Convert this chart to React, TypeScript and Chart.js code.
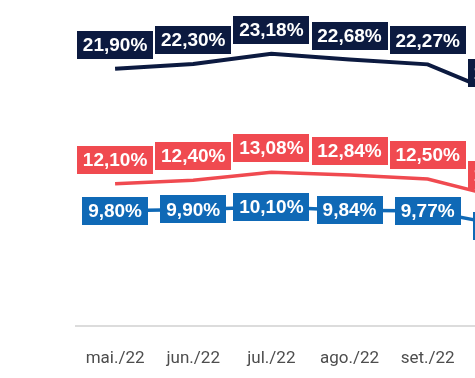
import { useEffect, useRef } from "react";
import { Chart, registerables } from "chart.js";

Chart.register(...registerables);

const categories = ["mai./22", "jun./22", "jul./22", "ago./22", "set./22", "out./22"];
const navyValues = [21.9, 22.3, 23.18, 22.68, 22.27, 19.5];
const redValues = [12.1, 12.4, 13.08, 12.84, 12.5, 10.8];
const blueValues = [9.8, 9.9, 10.1, 9.84, 9.77, 8.5];
const yMin = 0;
const yMax = 27.5;

const NAVY = "#0c1a40";
const RED = "#f04a50";
const BLUE = "#0f69b6";

const fmt = (v: number) => v.toFixed(2).replace(".", ",") + "%";

const boxLabels = {
  id: "boxLabels",
  afterDatasetsDraw(chart: any) {
    const ctx = chart.ctx;
    ctx.save();
    ctx.font = "bold 19px 'Liberation Sans', Arial, sans-serif";
    ctx.textAlign = "center";
    ctx.textBaseline = "middle";
    chart.data.datasets.forEach((ds: any, i: number) => {
      const meta = chart.getDatasetMeta(i);
      meta.data.forEach((pt: any, j: number) => {
        const text = fmt(ds.data[j]);
        const w = Math.round(ctx.measureText(text).width + 12);
        const h = 28;
        const cy = ds.labelMode === "above" ? pt.y - 10 - h / 2 : pt.y;
        ctx.fillStyle = ds.borderColor;
        ctx.fillRect(Math.round(pt.x - w / 2), Math.round(cy - h / 2), w, h);
        ctx.fillStyle = "#ffffff";
        ctx.fillText(text, pt.x, cy + 1);
      });
    });
    ctx.restore();
  },
};

const CANVAS_W = 557;
const CANVAS_H = 392;

export default function App() {
  const ref = useRef<HTMLCanvasElement>(null);
  useEffect(() => {
    if (!ref.current) return;
    const chart = new Chart(ref.current, {
      type: "line",
      data: {
        labels: categories,
        datasets: [
          {
            data: navyValues,
            borderColor: NAVY,
            backgroundColor: NAVY,
            borderWidth: 4,
            pointRadius: 0,
            tension: 0,
            labelMode: "above",
          } as any,
          {
            data: redValues,
            borderColor: RED,
            backgroundColor: RED,
            borderWidth: 3.5,
            pointRadius: 0,
            tension: 0,
            labelMode: "above",
          } as any,
          {
            data: blueValues,
            borderColor: BLUE,
            backgroundColor: BLUE,
            borderWidth: 3.5,
            pointRadius: 0,
            tension: 0,
            labelMode: "center",
          } as any,
        ],
      },
      options: {
        animation: false,
        responsive: false,
        devicePixelRatio: 1,
        layout: { padding: { left: 76, right: 7, top: 3, bottom: 0 } },
        plugins: { legend: { display: false }, tooltip: { enabled: false } },
        scales: {
          x: {
            type: "category",
            offset: true,
            grid: { display: false, drawTicks: false },
            border: { display: true, color: "#dcdcdc", width: 2 },
            ticks: {
              color: "#4d4d4d",
              font: { family: "Roboto", size: 17 },
              padding: 23,
              maxRotation: 0,
              autoSkip: false,
            },
          },
          y: { display: false, min: yMin, max: yMax },
        },
      },
      plugins: [boxLabels],
    });
    return () => chart.destroy();
  }, []);
  return (
    <div
      style={{
        position: "absolute",
        left: 0,
        top: 0,
        width: 475,
        height: 378,
        overflow: "hidden",
        background: "#ffffff",
      }}
    >
      <canvas
        ref={ref}
        width={CANVAS_W}
        height={CANVAS_H}
        style={{ width: CANVAS_W, height: CANVAS_H }}
      />
    </div>
  );
}
